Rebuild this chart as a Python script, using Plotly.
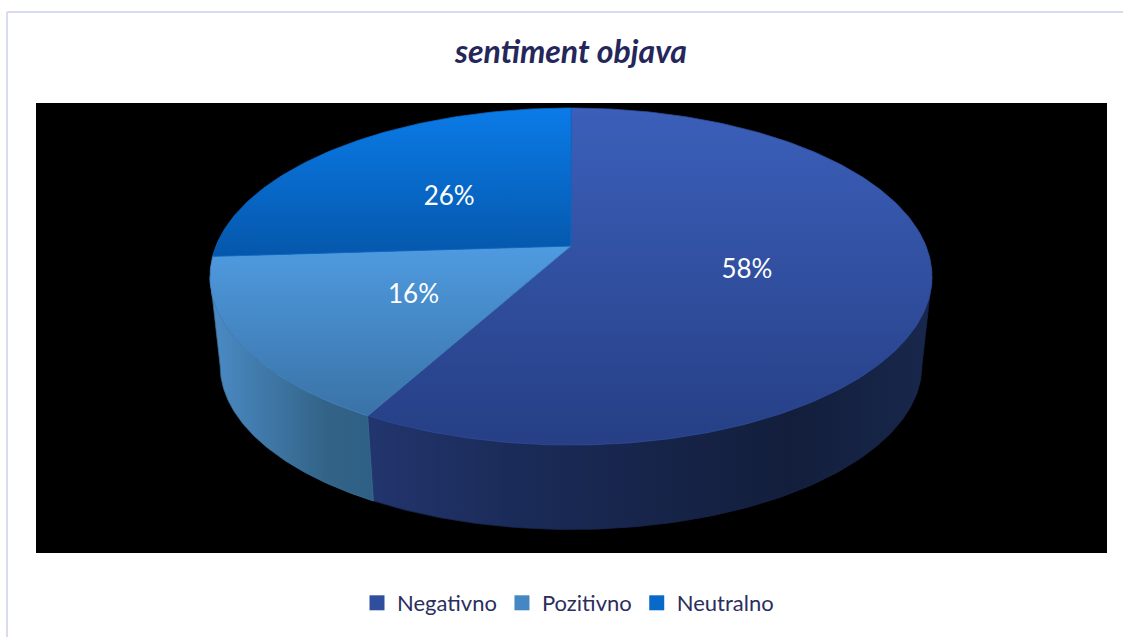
import numpy as np
import plotly.graph_objects as go

categories = ["Negativno", "Pozitivno", "Neutralno"]
values = [58, 16, 26]
top_colors = [("#3B5FBA", "#263F85"), ("#4F9BE0", "#3A72A6"), ("#0B7BE8", "#0557AB")]
top_mid = ["#304E9E", "#4587C3", "#0869C9"]
side_stops = [
    [[0, "#22356E"], [0.25, "#1B2B59"], [0.75, "#121E3B"], [1, "#18274C"]],
    [[0, "#4B8BC6"], [0.7, "#336488"], [1, "#2E5F84"]],
    [[0, "#0A4A8C"], [1, "#0A4A8C"]],
]
side_mid = ["#18264E", "#3A6E98", "#0A4A8C"]
title = "sentiment objava"
FONT = "Lato, Carlito, Calibri, sans-serif"
TEXT = "#2A2E5E"

# perspective pie projection (page-pixel axes)
CX, CY, A, B, K = 571.0, 246.0, 355.0, 163.0, 0.1811
S, CY_BOT = 0.972, 336.0
T_EXT = float(np.arccos(-K))  # angle of the silhouette on the right


def project(t, r=1.0, bottom=False):
    X, Y = r * np.sin(t), -r * np.cos(t)
    w = 1 - K * Y
    if bottom:
        return CX + S * A * X / w, CY_BOT + S * B * Y / w
    return CX + A * X / w, CY + B * Y / w


fig = go.Figure()
fracs = np.array(values) / sum(values)
edges = np.concatenate([[0], np.cumsum(fracs)]) * 2 * np.pi

for i, name in enumerate(categories):
    lo, hi = max(edges[i], T_EXT), min(edges[i + 1], 2 * np.pi - T_EXT)
    if hi <= lo:
        continue
    t = np.linspace(lo, hi, 120)
    x1, y1 = project(t)
    x2, y2 = project(t, bottom=True)
    sx = np.concatenate([x1, x2[::-1], x1[:1]])
    sy = np.concatenate([y1, y2[::-1], y1[:1]])
    fig.add_trace(go.Scatter(
        x=sx, y=sy, mode="lines", line=dict(width=0.8, color=side_mid[i]), fill="toself",
        fillgradient=dict(type="horizontal", colorscale=side_stops[i],
                          start=float(sx.min()), stop=float(sx.max())),
        showlegend=False, hoverinfo="skip"))

for i, name in enumerate(categories):
    t = np.linspace(edges[i], edges[i + 1], max(int(fracs[i] * 400), 30))
    x1, y1 = project(t)
    fx = np.concatenate([[CX], x1, [CX]])
    fy = np.concatenate([[CY], y1, [CY]])
    fig.add_trace(go.Scatter(
        x=fx, y=fy, mode="lines", line=dict(width=0.8, color=top_mid[i]), fill="toself",
        fillgradient=dict(type="vertical",
                          colorscale=[[0, top_colors[i][0]], [1, top_colors[i][1]]],
                          start=float(fy.min()), stop=float(fy.max())),
        showlegend=False, hoverinfo="text", text=f"{name}: {values[i]}%"))

mids = (edges[:-1] + edges[1:]) / 2
lx, ly = project(mids, r=0.5)
fig.add_trace(go.Scatter(
    x=lx, y=ly + 5, mode="text", text=[f"{v}%" for v in values],
    textposition="middle center",
    textfont=dict(family=FONT, size=26, color="white"),
    showlegend=False, hoverinfo="skip"))

for i, name in enumerate(categories):
    fig.add_trace(go.Scatter(
        x=[None], y=[None], mode="markers", name=name,
        marker=dict(symbol="square", size=15, color=top_mid[i])))

fig.update_layout(
    width=1123, height=637,
    margin=dict(l=0, r=0, t=0, b=0),
    paper_bgcolor="white", plot_bgcolor="white",
    xaxis=dict(visible=False, range=[0, 1123], fixedrange=True),
    yaxis=dict(visible=False, range=[637, 0], fixedrange=True),
    title=dict(text=f"<b><i>{title}</i></b>", x=571 / 1123, xanchor="center",
               y=1 - 52 / 637, yanchor="middle",
               font=dict(family=FONT, size=32, color="#25275A")),
    legend=dict(orientation="h", x=568 / 1123, xanchor="center",
                y=1 - 603 / 637, yanchor="middle",
                font=dict(family=FONT, size=22, color=TEXT),
                itemclick=False, itemdoubleclick=False),
    shapes=[
        dict(type="rect", layer="below", x0=36, x1=1107, y0=103, y1=553,
             xref="x", yref="y", fillcolor="black", line_width=0),
        dict(type="line", layer="below", x0=7, x1=1123, y0=12, y1=12,
             xref="x", yref="y", line=dict(color="#D9DBF2", width=2)),
        dict(type="line", layer="below", x0=7, x1=7, y0=12, y1=637,
             xref="x", yref="y", line=dict(color="#D9DBF2", width=2)),
    ],
    showlegend=True,
)
fig.write_html("out.html", config={"displayModeBar": False},
               post_script="document.body.style.margin='0';document.body.style.overflow='hidden';")
